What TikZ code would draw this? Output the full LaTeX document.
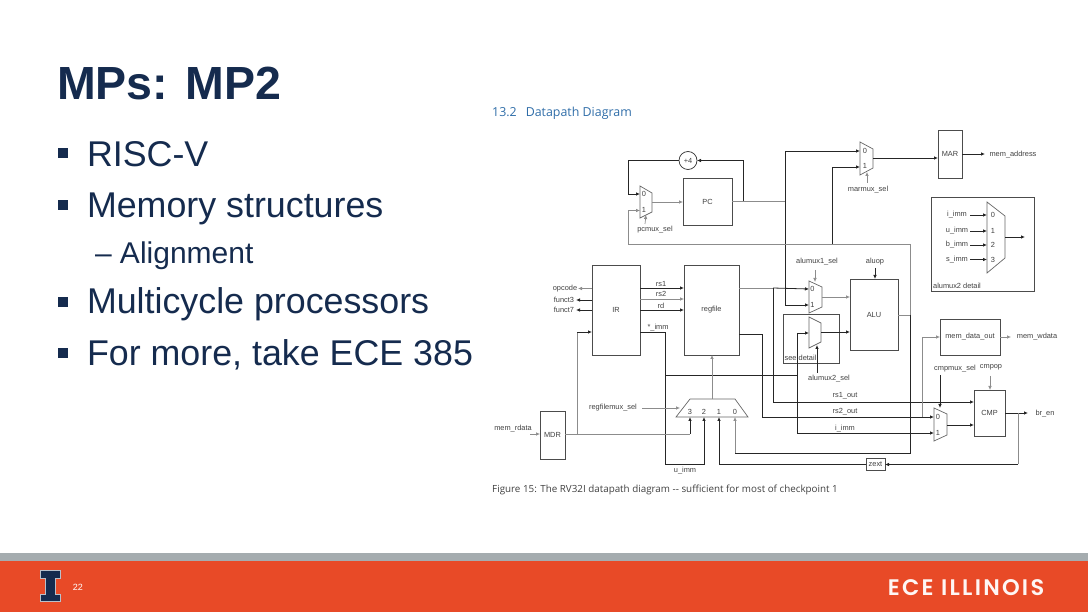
\documentclass[tikz,border=0pt]{standalone}
\usepackage{fontspec}
\setmainfont{Liberation Sans}
\newfontfamily\notefont{Open Sans}
\newfontfamily\brandfont[LetterSpace=10]{Poppins SemiBold}
\usetikzlibrary{arrows.meta,positioning,shapes}
\definecolor{navy}{HTML}{152B4E}
\definecolor{illiorange}{HTML}{E84A27}
\definecolor{bandgray}{HTML}{A5ACAF}
\definecolor{headblue}{HTML}{2F6DA8}
\tikzset{
  box/.style={draw=black!70,line width=.7pt,inner sep=0,outer sep=0,font=\fontsize{7.4}{8}\selectfont,text=black!75},
  lab/.style={inner sep=0,outer sep=0,font=\fontsize{7.4}{8}\selectfont,text=black!75},
  wire/.style={draw=black!85,line width=.8pt},
  wireg/.style={draw=black!45,line width=.7pt},
  muxline/.style={draw=black!60,line width=.7pt},
  bigtext/.style={inner sep=0,outer sep=0,anchor=base west,text=navy,font=\fontsize{35.8}{36}\selectfont},
  bulletbox/.style={fill=navy,inner sep=0,minimum size=10pt},
}
\begin{document}
\begin{tikzpicture}[x=1pt,y=-1pt,>={Latex[length=4pt,width=3.6pt]}]
\useasboundingbox (0,0) rectangle (1088,612);
% slide text
\node[inner sep=0,anchor=base west,text=navy,font=\fontsize{46.5}{48}\selectfont\bfseries] (title) at (57,100) {MPs: MP2};
\node[bulletbox] (b1) at (63,153) {};
\node[bulletbox] (b2) at (63,205) {};
\node[bulletbox] (b3) at (63,302) {};
\node[bulletbox] (b4) at (63,353) {};
\node[bigtext] (t1) at (87,167) {RISC-V};
\node[bigtext] (t2) at (87,218) {Memory structures};
\node[bigtext,font=\fontsize{30}{30}\selectfont] (t3) at (95,264) {– Alignment};
\node[bigtext] (t4) at (87,314) {Multicycle processors};
\node[bigtext] (t5) at (87,366) {For more, take ECE 385};
% footer
\fill[bandgray] (0,553) rectangle (1088,561);
\fill[illiorange] (0,561) rectangle (1088,612);
\draw[white!70!navy,line width=.6pt,fill=navy] (40.5,570.5) -- (60.5,570.5) -- (60.5,578) -- (55.5,578) -- (55.5,594) -- (60.5,594) -- (60.5,601.5) -- (40.5,601.5) -- (40.5,594) -- (45.5,594) -- (45.5,578) -- (40.5,578) -- cycle;
\node[inner sep=0,text=white,font=\fontsize{9}{9}\selectfont] (pagenum) at (78,587) {22};
\node[inner sep=0,text=white!95!illiorange,font=\brandfont\fontsize{22.5}{22}\selectfont] (brand) at (966,588) {ECE ILLINOIS};
% headings
\node[inner sep=0,anchor=base west,text=headblue,font=\notefont\fontsize{12.4}{13}\selectfont] (head) at (492,117) {13.2\hspace{9pt}Datapath Diagram};
\node[inner sep=0,anchor=base west,text=black!75,font=\notefont\fontsize{9.83}{11}\selectfont] (caption) at (492,493) {Figure 15: The RV32I datapath diagram -- sufficient for most of checkpoint 1};
% blocks
\node[box,draw=black!80,circle,minimum size=18pt] (plusfour) at (688,160.5) {+4};
\node[box,minimum width=49pt,minimum height=47pt] (pc) at (707.5,201.5) {PC};
\node[box,minimum width=24pt,minimum height=48pt] (mar) at (950,154) {MAR};
\node[box,minimum width=48pt,minimum height=90pt] (ir) at (616,310) {IR};
\node[box,minimum width=55pt,minimum height=90pt] (regfile) at (711.5,310) {regfile};
\node[box,minimum width=25pt,minimum height=48pt] (mdr) at (552.5,435) {MDR};
\node[box,minimum width=48pt,minimum height=71pt] (alu) at (874,314.5) {ALU};
\node[box,minimum width=60pt,minimum height=36pt] (memdata) at (970,337) {mem\_data\_out};
\node[box,minimum width=31pt,minimum height=46pt] (cmp) at (989.5,413) {CMP};
\node[box,minimum width=19pt,minimum height=12pt] (zext) at (875.5,464.5) {zext};
\node[box,minimum width=56pt,minimum height=49pt] (seedetail) at (811,338.5) {};
\node[box,minimum width=103pt,minimum height=94pt] (muxdetail) at (982.5,244) {};
% muxes
\draw[muxline] (640,186) -- (652,193) -- (652,212) -- (640,218) -- cycle;
\draw[muxline] (860,142) -- (873,149) -- (873,168) -- (860,175) -- cycle;
\draw[muxline] (809,281) -- (822,287) -- (822,307) -- (809,313) -- cycle;
\draw[muxline] (809,317) -- (821,323) -- (821,342) -- (809,348) -- cycle;
\draw[muxline] (934,408) -- (947,414) -- (947,435) -- (934,441) -- cycle;
\draw[muxline] (987,202) -- (1005,216) -- (1005,258) -- (987,273) -- cycle;
\draw[muxline] (690,399) -- (735,399) -- (748,417) -- (676,417) -- cycle;
% ports and bends
\coordinate (pcmuxa) at (640,194);
\coordinate (pcmuxb) at (640,210.5);
\coordinate (pcmuxout) at (652,202);
\coordinate (pcmuxsel) at (646,215);
\coordinate (pcbend) at (628,194);
\coordinate (pcloop) at (628,244);
\coordinate (pctap) at (743,201.5);
\coordinate (pcbus) at (785,201.5);
\coordinate (marmuxa) at (860,151);
\coordinate (marmuxb) at (860,167);
\coordinate (marmuxout) at (873,158);
\coordinate (martap) at (832,244);
\coordinate (aluonea) at (809,289);
\coordinate (aluoneb) at (809,305);
\coordinate (aluoneout) at (822,297);
\coordinate (alutwoin) at (809,333);
\coordinate (alutwoout) at (821,332);
\coordinate (aluarm) at (910,315);
\coordinate (cmpa) at (934,417);
\coordinate (cmpb) at (934,433);
\coordinate (cmpout) at (947,425);
\coordinate (regthree) at (690,417);
\coordinate (regtwo) at (704,417);
\coordinate (regone) at (719,417);
\coordinate (regzero) at (735,417);
\coordinate (regout) at (712,399);
\coordinate (regsel) at (680,408);
\coordinate (mdrtap) at (577,434);
% pc loop
\draw[wire,->] (pctap) |- (plusfour.east);
\draw[wire,->] (plusfour.west) -| (pcbend) -- (pcmuxa);
\draw[wireg,->] (pcmuxout) -- (pc.west |- pcmuxout);
\draw[wireg] (pc.east) -- (pcbus);
\draw[wire,->] (pcbus) |- (marmuxa);
\draw[wire,->] (pcbus) |- (aluoneb);
\draw[wire,->] (marmuxout) -- (mar.west |- marmuxout);
\draw[wire,->] (mar.east) -- (985,154);
\draw[wireg,->] (645,224) -- (pcmuxsel);
\draw[wireg,->] (867,183) -- (867,172);
% alu result
\draw[wireg] (alu.east |- aluarm) -- (aluarm);
\draw[wireg,->] (aluarm) |- (pcloop) |- (pcmuxb);
\draw[wire,->] (martap) |- (marmuxb);
\draw[wire] (aluarm) -- (910,453) -- (735,453);
\draw[wireg,->] (735,453) -- (regzero);
% ir and regfile
\draw[wire,->] (ir.east |- 0,288) -- (regfile.west |- 0,288);
\draw[wireg,->] (ir.east |- 0,299) -- (regfile.west |- 0,299);
\draw[wire,->] (ir.east |- 0,310) -- (regfile.west |- 0,310);
\draw[wireg,->] (ir.west |- 0,288.5) -- (578,288.5);
\draw[wire,->] (ir.west |- 0,300) -- (576,300);
\draw[wire,->] (ir.west |- 0,310) -- (576,310);
\draw[wire] (ir.east |- 0,332) -- (665,332) -- (665,375) -- (797,375);
\draw[wire,->] (665,375) |- (704,464) -- (regtwo);
\draw[wire,->] (797,333) -- (alutwoin);
\draw[wire,->] (797,375) |- (cmpb);
\draw[wire] (797,333) -- (797,375);
\draw[wireg] (regfile.east |- 0,288) -- (773,288);
\draw[wire,->] (773,288) -- (aluonea);
\draw[wire,->] (773,288) |- (cmp.west |- 0,402);
\draw[wire] (regfile.east |- 0,334) -- (762,334) -- (762,417);
\draw[wire,->] (762,417) -- (cmpa);
\draw[wireg,->] (922,417) |- (memdata.west);
\draw[wireg,->] (memdata.east) -- (1011,337);
% alu and cmp
\draw[wireg,->] (aluoneout) -- (alu.west |- aluoneout);
\draw[wire,->] (alutwoout) -- (alu.west |- alutwoout);
\draw[wire,->] (cmpout) -- (cmp.west |- cmpout);
\draw[wire,->] (cmp.east |- 0,413) -- (1028,413);
\draw[wireg] (1018,413) -- (1018,464.5);
\draw[wire,->] (1018,464.5) -- (zext.east);
\draw[wire] (zext.west) -- (719,464.5);
\draw[wire,->] (719,464.5) -- (regone);
\draw[wire,->] (940,375) -- (940,408);
\draw[wireg,->] (990,376) -- (cmp.north -| 990,0);
\draw[wireg,->] (815,270) -- (815,282);
\draw[wire,->] (875,268) -- (alu.north -| 875,0);
\draw[wire,->] (817,373) -- (817,345);
% write back
\draw[wireg,->] (regout) -- (regfile.south -| regout);
\draw[wireg,->] (642,408) -- (regsel);
\draw[wireg,->] (530,434) -- (mdr.west |- mdrtap);
\draw[wireg] (mdr.east |- mdrtap) -- (690,434);
\draw[wire,->] (690,434) -- (regthree);
\draw[wireg] (mdrtap) -- (577,332);
\draw[wire,->] (577,332) -- (ir.west |- 0,332);
% detail mux
\draw[wire,->] (970,215) -- (987,215);
\draw[wire,->] (970,231) -- (987,231);
\draw[wire,->] (970,245) -- (987,245);
\draw[wire,->] (970,259.5) -- (987,259.5);
\draw[wire,->] (1005,237) -- (1025,237);
% labels
\node[lab] (l0) at (644,194) {0};
\node[lab] (l1) at (644,210) {1};
\node[lab] (l2) at (655,230) {pcmux\_sel};
\node[lab] (l3) at (865,151) {0};
\node[lab] (l4) at (865,166) {1};
\node[lab] (l5) at (868,190) {marmux\_sel};
\node[lab] (l6) at (1013,155) {mem\_address};
\node[lab] (l7) at (957,215) {i\_imm};
\node[lab] (l8) at (957,231) {u\_imm};
\node[lab] (l9) at (957,245) {b\_imm};
\node[lab] (l10) at (957,259.5) {s\_imm};
\node[lab] (l11) at (993,215) {0};
\node[lab] (l12) at (993,231) {1};
\node[lab] (l13) at (993,245) {2};
\node[lab] (l14) at (993,259.5) {3};
\node[lab] (l15) at (957,285.5) {alumux2 detail};
\node[lab] (l16) at (817,262) {alumux1\_sel};
\node[lab] (l17) at (875,262) {aluop};
\node[lab] (l18) at (812.5,289) {0};
\node[lab] (l19) at (812.5,305) {1};
\node[lab] (l20) at (800.5,358) {see detail};
\node[lab] (l21) at (829,379) {alumux2\_sel};
\node[lab] (l22) at (565,288.5) {opcode};
\node[lab] (l23) at (564,300) {funct3};
\node[lab] (l24) at (564,310) {funct7};
\node[lab] (l25) at (661,284) {rs1};
\node[lab] (l26) at (661,294) {rs2};
\node[lab] (l27) at (661,306) {rd};
\node[lab] (l28) at (658,328) {*\_imm};
\node[lab] (l29) at (613,408) {regfilemux\_sel};
\node[lab] (l30) at (513,429) {mem\_rdata};
\node[lab] (l31) at (685,471) {u\_imm};
\node[lab] (l32) at (690,412) {3};
\node[lab] (l33) at (704,412) {2};
\node[lab] (l34) at (719,412) {1};
\node[lab] (l35) at (735,412) {0};
\node[lab] (l36) at (845,396) {rs1\_out};
\node[lab] (l37) at (845,412) {rs2\_out};
\node[lab] (l38) at (845,429) {i\_imm};
\node[lab] (l39) at (938,417) {0};
\node[lab] (l40) at (938,433) {1};
\node[lab] (l41) at (955,369) {cmpmux\_sel};
\node[lab] (l42) at (991,367) {cmpop};
\node[lab] (l43) at (1037,337) {mem\_wdata};
\node[lab] (l44) at (1045,414) {br\_en};
\end{tikzpicture}
\end{document}
